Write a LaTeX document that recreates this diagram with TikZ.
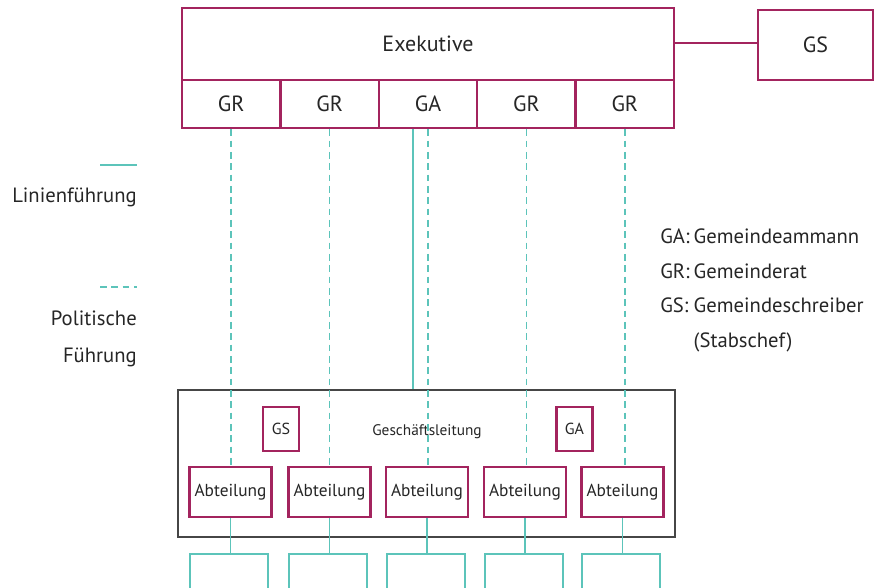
\documentclass[tikz,border=0pt]{standalone}
\usepackage{fontspec}
\setmainfont{PT Sans}
\usepackage{tikz}
\usetikzlibrary{calc}

\definecolor{beere}{RGB}{163,36,94}
\definecolor{tuerkis}{RGB}{92,196,186}
\definecolor{dunkel}{RGB}{70,70,70}

\begin{document}
\begin{tikzpicture}[x=0.75pt,y=0.75pt,yscale=-1,xscale=1,
    kasten/.style={draw=beere,line width=1.8pt,fill=white,inner sep=0pt,text=black!85},
    zelle/.style={kasten,minimum width=73.8pt,minimum height=36pt,font=\fontsize{16.5}{19}\selectfont},
    abteilung/.style={kasten,minimum width=61.5pt,minimum height=37.5pt,font=\fontsize{13}{15}\selectfont},
    klein/.style={kasten,minimum width=27pt,minimum height=33pt,font=\fontsize{12}{14}\selectfont},
    linie/.style={draw=tuerkis,line width=1.3pt},
    politisch/.style={linie,dash pattern=on 5pt off 3.5pt},
    legende/.style={inner sep=0pt,font=\fontsize{15.5}{26}\selectfont,text=black!85}]
        \useasboundingbox (0,0) rectangle (875,588);

        %Shape: Rectangle Geschaeftsleitung
        \node [draw=dunkel,line width=1.8pt,inner sep=0pt,minimum width=372.75pt,minimum height=110.25pt] (gl) at (426.5,463.5) {};
        % Text Node
        \node [font=\fontsize{11.5}{13}\selectfont,inner sep=0pt,text=black!85] (gltext) at (427,432) {Geschäftsleitung};

        %Shape: Rectangle Exekutive
        \node [kasten,minimum width=369pt,minimum height=54pt,font=\fontsize{16.5}{19}\selectfont] (exek) at (428,44) {Exekutive};
        \foreach \x/\lab [count=\i] in {231.2/GR,329.6/GR,428/GA,526.4/GR,624.8/GR}
            \node [zelle] (gr\i) at (\x,104) {\lab};

        %Shape: Rectangle GS
        \node [kasten,minimum width=86.25pt,minimum height=52.5pt,font=\fontsize{16.5}{19}\selectfont] (gs) at (815.5,45) {GS};
        \draw [draw=beere,line width=1.8pt] (exek.east |- 0,43) -- (gs.west |- 0,43);

        %Abteilungen
        \foreach \x [count=\i] in {230.5,329.5,427,525,622.5}
            \node [abteilung] (abt\i) at (\x,492) {Abteilung};

        %Shape: small boxes in Geschaeftsleitung
        \node [klein] (glgs) at (281,429) {GS};
        \node [klein] (glga) at (574.5,429) {GA};

        %Dashed Lines: politische Fuehrung
        \foreach \i in {1,...,5}
            \draw [politisch] (gr\i.south) -- (gr\i.south |- abt\i.north);
        %Straight Lines: Linienfuehrung GA
        \coordinate (galinie) at ([xshift=-11.25pt]gr3.south);
        \draw [linie] (galinie) -- (galinie |- gl.north);

        %Straight Lines below Abteilungen
        \foreach \i in {1,...,5} {
            \draw [linie] (abt\i.south) -- ++(0,36);
            \draw [linie] ($(abt\i.south west)+(2,72)$) -- ++(0,-36) -- ++(78,0) -- ++(0,36);
        }

        %Legend left
        \coordinate (l1a) at (100,165);
        \coordinate (l1b) at (137,165);
        \draw [linie] (l1a) -- (l1b);
        \node [legende,anchor=east] (l1text) at (137,197) {Linienführung};
        \coordinate (l2a) at (100,287);
        \coordinate (l2b) at (137,287);
        \draw [politisch] (l2a) -- (l2b);
        \node [legende,anchor=east,align=right,font=\fontsize{15.5}{27.75}\selectfont] (l2text) at (137,339) {Politische\\Führung};

        %Legend right
        \node [legende,anchor=north west] (abk) at (660,219) {%
            \begin{tabular}{@{}l@{\hspace{3pt}}l@{}}
            GA: & Gemeindeammann\\
            GR: & Gemeinderat\\
            GS: & Gemeindeschreiber\\
                & (Stabschef)
            \end{tabular}};
\end{tikzpicture}
\end{document}
